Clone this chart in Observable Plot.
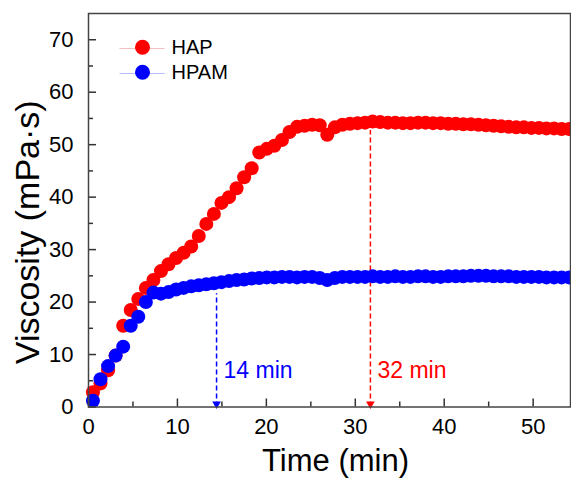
<!DOCTYPE html>
<html>
<head>
<meta charset="utf-8">
<script src="https://cdn.jsdelivr.net/npm/d3@7"></script>
<script src="https://cdn.jsdelivr.net/npm/@observablehq/plot@0.6"></script>
<style>
  html, body { margin: 0; padding: 0; background: #fff; }
  #chart svg { display: block; }
</style>
</head>
<body>
<div id="chart"></div>
<script>
// Sampling times (min)
const times = [0.5,1.35,2.2,3.05,3.9,4.75,5.6,6.45,7.3,8.15,9.0,9.85,10.7,11.55,12.4,13.25,14.1,14.95,15.8,16.65,17.5,18.35,19.2,20.05,20.9,21.75,22.6,23.45,24.3,25.15,26.0,26.85,27.7,28.55,29.4,30.25,31.1,31.95,32.8,33.65,34.5,35.35,36.2,37.05,37.9,38.75,39.6,40.45,41.3,42.15,43.0,43.85,44.7,45.55,46.4,47.25,48.1,48.95,49.8,50.65,51.5,52.35,53.2,54.05];
// Viscosity (mPa·s)
const hap = [2.8,4.5,7.0,9.8,15.5,18.5,20.6,22.7,24.2,25.9,27.2,28.4,29.4,30.6,32.6,34.9,36.8,38.9,40.0,41.7,43.8,45.5,48.5,49.2,49.8,50.9,52.4,53.4,53.6,53.8,53.7,51.9,53.3,53.8,54.0,54.1,54.2,54.4,54.3,54.2,54.2,54.1,54.1,54.2,54.2,54.1,54.1,54.0,54.0,53.9,53.9,53.8,53.7,53.6,53.5,53.4,53.3,53.3,53.2,53.2,53.1,53.1,53.0,53.0];
const hpam = [1.2,5.3,7.8,9.8,11.5,15.5,17.2,20.0,21.8,21.6,21.9,22.4,22.7,23.0,23.2,23.4,23.6,23.8,24.0,24.2,24.3,24.5,24.6,24.7,24.7,24.8,24.8,24.7,24.8,24.8,24.6,24.2,24.6,24.8,24.8,24.8,24.8,24.9,24.8,24.8,24.9,24.8,24.8,24.9,24.9,24.8,24.8,24.9,24.9,24.9,25.0,25.0,25.0,24.9,24.9,24.9,24.8,24.8,24.8,24.8,24.7,24.7,24.7,24.7];

const seriesNames = ["HAP", "HPAM"];
const seriesColors = ["#ff0000", "#0000ff"];
const legendLineColors = ["#f5c0c0", "#b8b8ff"];

const xMajor = [0, 10, 20, 30, 40, 50];
const xMinor = [5, 15, 25, 35, 45];
const yMajor = [0, 10, 20, 30, 40, 50, 60, 70];
const yMinor = [5, 15, 25, 35, 45, 55, 65];

// Annotations: time marker, top of dashed line, label
const markTimes = [14.4, 31.7];
const markTops = [21.6, 52.7];
const markLabels = ["14 min", "32 min"];

const hapData = times.map((t, i) => ({t, v: hap[i]}));
const hpamData = times.map((t, i) => ({t, v: hpam[i]}));
const marks = markTimes.map((t, i) => ({t, top: markTops[i], label: markLabels[i], color: seriesColors[1 - i]}));

const font = "Liberation Sans, Arial, Helvetica, sans-serif";
const W = 571, H = 479, ML = 88, MR = 1, MT = 13, MB = 72.5;
const FW = W - ML - MR, FH = H - MT - MB;

function legendItem(i, dy) {
  return [
    Plot.text([seriesNames[i]], {frameAnchor: "top-left", text: () => "\u2014\u2014\u2014", fill: legendLineColors[i], dx: 53.5, dy, fontSize: 15, fontFamily: font, textAnchor: "middle", lineAnchor: "middle"}),
    Plot.dot([seriesNames[i]], {frameAnchor: "top-left", dx: 54, dy, r: 7.5, fill: seriesColors[i]}),
    Plot.text([seriesNames[i]], {frameAnchor: "top-left", text: d => d, dx: 83, dy, fontSize: 20, fontFamily: font, textAnchor: "start", lineAnchor: "middle", fill: "#000"})
  ];
}

const chart = Plot.plot({
  width: W,
  height: H,
  marginLeft: ML,
  marginRight: MR,
  marginTop: MT,
  marginBottom: MB,
  style: {fontFamily: font, background: "#fff", color: "#000", overflow: "visible"},
  x: {domain: [0, 54.2]},
  y: {domain: [0, 75]},
  marks: [
    // annotation lines
    Plot.ruleX(marks, {x: "t", y1: 0, y2: "top", stroke: "color", strokeWidth: 1.5, strokeDasharray: "5,3"}),
    Plot.dot(marks, {x: "t", y: 0, symbol: "triangle", r: 3.2, fill: "color", rotate: 180, dy: -3}),
    Plot.text(marks, {x: "t", y: 0, text: "label", fill: "color", textAnchor: "start", dx: 7, dy: -36, fontSize: 23, fontFamily: font}),
    // data
    Plot.dot(hapData, {x: "t", y: "v", r: 7, fill: seriesColors[0]}),
    Plot.dot(hpamData, {x: "t", y: "v", r: 7, fill: seriesColors[1]}),
    // inward ticks
    Plot.ruleX(xMajor, {x: d => d, insetTop: FH - 8, stroke: "#333", strokeWidth: 1.5}),
    Plot.ruleX(xMinor, {x: d => d, insetTop: FH - 5, stroke: "#333", strokeWidth: 1.5}),
    Plot.ruleY(yMajor, {y: d => d, insetRight: FW - 8, stroke: "#333", strokeWidth: 1.5}),
    Plot.ruleY(yMinor, {y: d => d, insetRight: FW - 5, stroke: "#333", strokeWidth: 1.5}),
    // tick labels
    Plot.axisX(xMajor, {tickSize: 0, tickPadding: 11, fontSize: 22, label: null}),
    Plot.axisY(yMajor, {tickSize: 0, tickPadding: 15, fontSize: 22, label: null}),
    Plot.frame({stroke: "#444", strokeWidth: 1.5}),
    // axis titles
    Plot.text(["Time (min)"], {frameAnchor: "bottom", text: d => d, dx: 6, dy: 54.5, fontSize: 31, fontFamily: font, textAnchor: "middle", lineAnchor: "middle"}),
    Plot.text(["Viscosity (mPa·s)"], {frameAnchor: "left", text: d => d, rotate: -90, dx: -60, dy: 22, fontSize: 34, fontFamily: font, textAnchor: "middle", lineAnchor: "middle"}),
    // legend
    ...legendItem(0, 33.7),
    ...legendItem(1, 58.7)
  ]
});
document.getElementById("chart").appendChild(chart);
</script>
</body>
</html>
